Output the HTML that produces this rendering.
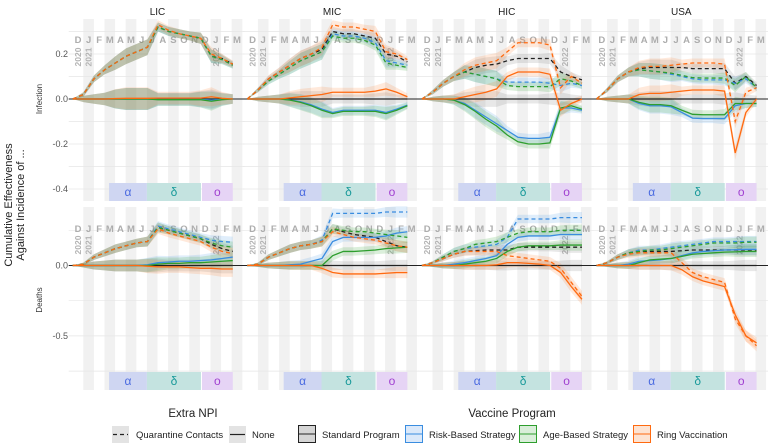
<!DOCTYPE html>
<html><head><meta charset="utf-8"><style>
body{margin:0;background:#fff;width:768px;height:446px;overflow:hidden}
svg{display:block;font-family:"Liberation Sans",sans-serif}
</style></head><body>
<svg id="chart" width="768" height="446" viewBox="0 0 768 446" xmlns="http://www.w3.org/2000/svg">
<g id="bg"></g>
<g id="marks"></g>
<g id="labels"></g>
<text transform="translate(12,205) rotate(-90)" text-anchor="middle" font-size="11" fill="#222">Cumulative Effectiveness</text>
<text transform="translate(24,205) rotate(-90)" text-anchor="middle" font-size="11" fill="#222">Against Incidence of ...</text>
<text transform="translate(42,99) rotate(-90)" text-anchor="middle" font-size="8" fill="#333">Infection</text>
<text transform="translate(42,300) rotate(-90)" text-anchor="middle" font-size="8" fill="#333">Deaths</text>
<g font-size="9.5" fill="#222">
<text x="193" y="417" text-anchor="middle" font-size="11.5">Extra NPI</text>
<text x="512" y="417" text-anchor="middle" font-size="11.5">Vaccine Program</text>
<g><rect x="112" y="426" width="17" height="17" fill="#e3e3e3"/><line x1="113" y1="434.5" x2="128" y2="434.5" stroke="#222" stroke-width="1.2" stroke-dasharray="4,3"/><text x="136" y="438">Quarantine Contacts</text></g>
<g><rect x="229" y="426" width="17" height="17" fill="#e3e3e3"/><line x1="230" y1="434.5" x2="245" y2="434.5" stroke="#222" stroke-width="1.2"/><text x="252" y="438">None</text></g>
<g><rect x="298.5" y="425.5" width="17" height="17" fill="#d5d5d5" stroke="#222"/><line x1="299" y1="434" x2="315" y2="434" stroke="#222"/><text x="322" y="438">Standard Program</text></g>
<g><rect x="405.5" y="425.5" width="17" height="17" fill="#dbe9fa" stroke="#3a8de0"/><line x1="406" y1="434" x2="422" y2="434" stroke="#3a8de0"/><text x="429" y="438">Risk-Based Strategy</text></g>
<g><rect x="519.5" y="425.5" width="17" height="17" fill="#d9eed9" stroke="#2e9e2e"/><line x1="520" y1="434" x2="536" y2="434" stroke="#2e9e2e"/><text x="543" y="438">Age-Based Strategy</text></g>
<g><rect x="633.5" y="425.5" width="17" height="17" fill="#fde3d2" stroke="#ff6a10"/><line x1="634" y1="434" x2="650" y2="434" stroke="#ff6a10"/><text x="657" y="438">Ring Vaccination</text></g>
</g>
</svg>
<script>
const months=['D','J','F','M','A','M','J','J','A','S','O','N','D','J','F','M'];
const panelNames=['LIC','MIC','HIC','USA'];
const ticksInf=[0.2,0.0,-0.2,-0.4];
const ticksInfLabels=['0.2','0.0','-0.2','-0.4'];
const gridInf=[0.3,0.1,-0.1,-0.3];
const ticksDth=[0.0,-0.5];
const ticksDthLabels=['0.0','-0.5'];
const gridDth=[0.25,-0.25,-0.75];
const variants=['α','δ','ο'];
const variantStart=[3.43,7.0,12.2];
const variantEnd=[7.0,12.1,15.1];
const Z=[0,0,0,0,0,0,0,0,0,0,0,0,0,0,0,0];
const ribInf=[0,0.01,0.015,0.02,0.03,0.035,0.035,0.035,0.02,0.02,0.02,0.02,0.025,0.03,0.02,0.015];
const ribDth=[0,0.01,0.02,0.025,0.03,0.03,0.03,0.035,0.035,0.03,0.03,0.03,0.03,0.035,0.04,0.04];
// LIC infection
const LIC_inf_std_q=[0,0.02,0.09,0.13,0.16,0.19,0.21,0.23,0.32,0.30,0.29,0.28,0.27,0.19,0.18,0.155];
const LIC_inf_risk_q=[0,0.02,0.09,0.13,0.16,0.19,0.21,0.23,0.32,0.30,0.29,0.28,0.27,0.19,0.175,0.15];
const LIC_inf_age_q=[0,0.02,0.09,0.13,0.16,0.19,0.21,0.23,0.32,0.30,0.29,0.28,0.27,0.19,0.175,0.15];
const LIC_inf_ring_q=[0,0.02,0.09,0.13,0.16,0.19,0.21,0.23,0.33,0.305,0.29,0.28,0.27,0.2,0.18,0.155];
const LIC_inf_risk_n=[0,0,0,0,0,0,0,0,-0.002,-0.002,-0.002,-0.002,-0.002,-0.005,-0.002,0];
const LIC_inf_age_n=[0,0,0,0,0,0,0,0,-0.003,-0.003,-0.003,-0.003,-0.003,-0.01,-0.003,0];
const LIC_inf_ring_n=[0,0,0,0,0.002,0.003,0.003,0.003,0.004,0.004,0.004,0.004,0.004,0.01,0.003,0];
// MIC infection
const MIC_inf_std_q=[0,0.04,0.09,0.12,0.15,0.18,0.20,0.22,0.30,0.29,0.29,0.28,0.27,0.20,0.19,0.165];
const MIC_inf_risk_q=[0,0.04,0.08,0.11,0.14,0.17,0.19,0.21,0.29,0.28,0.28,0.27,0.25,0.17,0.16,0.15];
const MIC_inf_age_q=[0,0.04,0.08,0.11,0.14,0.17,0.19,0.21,0.28,0.27,0.27,0.26,0.24,0.16,0.15,0.14];
const MIC_inf_ring_q=[0,0.04,0.09,0.12,0.15,0.18,0.20,0.23,0.33,0.32,0.32,0.31,0.30,0.21,0.20,0.175];
const MIC_inf_risk_n=[0,0,0,0,-0.004,-0.012,-0.026,-0.045,-0.06,-0.05,-0.05,-0.05,-0.05,-0.06,-0.045,-0.027];
const MIC_inf_age_n=[0,0,0,0,-0.005,-0.015,-0.03,-0.05,-0.065,-0.055,-0.055,-0.055,-0.055,-0.065,-0.05,-0.03];
const MIC_inf_ring_n=[0,0,0,0,0.005,0.01,0.015,0.02,0.03,0.03,0.03,0.03,0.035,0.045,0.03,0.01];
// HIC infection
const HIC_inf_std_q=[0,0.03,0.07,0.10,0.12,0.14,0.15,0.155,0.17,0.18,0.18,0.18,0.18,0.12,0.10,0.085];
const HIC_inf_risk_q=[0,0.03,0.07,0.10,0.12,0.11,0.10,0.09,0.075,0.075,0.075,0.075,0.07,0.06,0.07,0.06];
const HIC_inf_age_q=[0,0.03,0.07,0.10,0.12,0.11,0.10,0.09,0.06,0.055,0.055,0.055,0.055,0.09,0.08,0.06];
const HIC_inf_ring_q=[0,0.03,0.07,0.10,0.13,0.15,0.16,0.17,0.21,0.25,0.25,0.25,0.24,0.05,0.10,0.07];
const HIC_inf_risk_n=[0,0,0,-0.005,-0.02,-0.05,-0.08,-0.11,-0.14,-0.17,-0.175,-0.175,-0.17,-0.04,-0.04,-0.05];
const HIC_inf_age_n=[0,0,0,-0.005,-0.025,-0.055,-0.09,-0.12,-0.16,-0.19,-0.2,-0.2,-0.195,-0.04,-0.03,-0.045];
const HIC_inf_ring_n=[0,0,0,0,0.01,0.02,0.03,0.045,0.10,0.12,0.12,0.12,0.11,-0.05,-0.02,0.0];
// USA infection
const USA_inf_std_q=[0,0.04,0.09,0.12,0.135,0.14,0.14,0.14,0.14,0.135,0.135,0.135,0.135,0.07,0.1,0.06];
const USA_inf_risk_q=[0,0.04,0.09,0.12,0.13,0.125,0.12,0.11,0.1,0.09,0.085,0.085,0.085,0.07,0.09,0.05];
const USA_inf_age_q=[0,0.04,0.09,0.12,0.13,0.125,0.12,0.115,0.105,0.095,0.093,0.093,0.093,0.06,0.1,0.05];
const USA_inf_ring_q=[0,0.04,0.09,0.12,0.14,0.145,0.145,0.15,0.155,0.16,0.16,0.16,0.155,-0.1,0.03,0.05];
const USA_inf_risk_n=[0,0,0,0,-0.02,-0.03,-0.03,-0.035,-0.06,-0.085,-0.087,-0.087,-0.087,-0.03,-0.02,-0.02];
const USA_inf_age_n=[0,0,0,0,-0.015,-0.025,-0.025,-0.03,-0.05,-0.068,-0.07,-0.07,-0.07,-0.02,-0.02,-0.02];
const USA_inf_ring_n=[0,0,0,0,0.02,0.025,0.025,0.03,0.035,0.04,0.04,0.04,0.035,-0.24,-0.06,0];
// LIC deaths
const LIC_dth_std_q=[0,0.01,0.06,0.09,0.12,0.14,0.16,0.17,0.27,0.25,0.23,0.21,0.19,0.15,0.12,0.1];
const LIC_dth_risk_q=[0,0.01,0.06,0.09,0.12,0.14,0.16,0.17,0.28,0.26,0.24,0.22,0.2,0.18,0.17,0.165];
const LIC_dth_age_q=[0,0.01,0.06,0.09,0.12,0.14,0.16,0.17,0.27,0.25,0.23,0.21,0.19,0.16,0.14,0.13];
const LIC_dth_ring_q=[0,0.01,0.06,0.09,0.12,0.14,0.16,0.17,0.26,0.23,0.21,0.19,0.17,0.13,0.10,0.085];
const LIC_dth_risk_n=[0,0,0,0,0,0,0,0.005,0.02,0.025,0.03,0.03,0.035,0.04,0.05,0.06];
const LIC_dth_age_n=[0,0,0,0,0,0,0,0,0.01,0.015,0.015,0.02,0.02,0.025,0.03,0.035];
const LIC_dth_ring_n=[0,0,0,0,0,0,0,-0.005,-0.01,-0.01,-0.01,-0.015,-0.02,-0.02,-0.025,-0.025];
// MIC deaths
const MIC_dth_std_q=[0,0.01,0.06,0.09,0.12,0.14,0.15,0.17,0.26,0.24,0.22,0.21,0.2,0.17,0.14,0.13];
const MIC_dth_risk_q=[0,0.01,0.06,0.09,0.12,0.14,0.15,0.18,0.37,0.37,0.37,0.37,0.37,0.38,0.38,0.38];
const MIC_dth_age_q=[0,0.01,0.06,0.09,0.12,0.14,0.15,0.17,0.26,0.25,0.24,0.24,0.23,0.22,0.21,0.2];
const MIC_dth_ring_q=[0,0.01,0.06,0.09,0.12,0.14,0.15,0.17,0.24,0.22,0.2,0.19,0.18,0.16,0.14,0.13];
const MIC_dth_risk_n=[0,0,0,0,0.005,0.01,0.03,0.05,0.17,0.2,0.2,0.2,0.2,0.21,0.23,0.24];
const MIC_dth_age_n=[0,0,0,0,0,0,0,0,0.07,0.1,0.1,0.105,0.11,0.12,0.125,0.13];
const MIC_dth_ring_n=[0,0,0,0,0,0,0,-0.02,-0.05,-0.06,-0.06,-0.06,-0.06,-0.055,-0.05,-0.05];
// HIC deaths
const HIC_dth_std_q=[0,0.02,0.05,0.08,0.1,0.105,0.11,0.11,0.11,0.13,0.13,0.13,0.13,0.13,0.13,0.13];
const HIC_dth_risk_q=[0,0.02,0.06,0.1,0.12,0.13,0.14,0.15,0.2,0.33,0.33,0.33,0.33,0.34,0.34,0.34];
const HIC_dth_age_q=[0,0.02,0.06,0.1,0.12,0.15,0.16,0.17,0.2,0.23,0.24,0.24,0.24,0.25,0.25,0.25];
const HIC_dth_ring_q=[0,0.02,0.05,0.08,0.1,0.1,0.1,0.1,0.07,0.06,0.05,0.04,0.03,-0.02,-0.12,-0.22];
const HIC_dth_risk_n=[0,0,0,0.01,0.02,0.035,0.05,0.07,0.15,0.2,0.21,0.21,0.21,0.22,0.22,0.22];
const HIC_dth_age_n=[0,0,0,0,0.01,0.02,0.03,0.05,0.1,0.13,0.14,0.14,0.14,0.145,0.145,0.145];
const HIC_dth_ring_n=[0,0,0,0,0,0,0,0.005,0.02,0.02,0.015,0.01,0,-0.05,-0.15,-0.24];
// USA deaths
const USA_dth_std_q=[0,0.02,0.06,0.09,0.1,0.1,0.1,0.1,0.105,0.11,0.11,0.11,0.11,0.11,0.11,0.11];
const USA_dth_risk_q=[0,0.02,0.06,0.09,0.11,0.11,0.12,0.13,0.14,0.15,0.16,0.17,0.17,0.17,0.17,0.17];
const USA_dth_age_q=[0,0.02,0.06,0.09,0.1,0.11,0.11,0.12,0.13,0.14,0.15,0.16,0.16,0.16,0.165,0.165];
const USA_dth_ring_q=[0,0.02,0.06,0.08,0.09,0.09,0.09,0.09,0.02,-0.05,-0.08,-0.1,-0.12,-0.38,-0.5,-0.57];
const USA_dth_risk_n=[0,0,0,0.01,0.03,0.035,0.04,0.05,0.07,0.09,0.1,0.105,0.11,0.112,0.115,0.115];
const USA_dth_age_n=[0,0,0,0,0.02,0.04,0.045,0.05,0.065,0.08,0.085,0.09,0.095,0.097,0.1,0.1];
const USA_dth_ring_n=[0,0,0,0,0,0,0,0,-0.03,-0.08,-0.11,-0.13,-0.15,-0.35,-0.5,-0.55];

const seriesMap={
 LIC:{inf:{std:[LIC_inf_std_q,Z],risk:[LIC_inf_risk_q,LIC_inf_risk_n],age:[LIC_inf_age_q,LIC_inf_age_n],ring:[LIC_inf_ring_q,LIC_inf_ring_n]},
      dth:{std:[LIC_dth_std_q,Z],risk:[LIC_dth_risk_q,LIC_dth_risk_n],age:[LIC_dth_age_q,LIC_dth_age_n],ring:[LIC_dth_ring_q,LIC_dth_ring_n]}},
 MIC:{inf:{std:[MIC_inf_std_q,Z],risk:[MIC_inf_risk_q,MIC_inf_risk_n],age:[MIC_inf_age_q,MIC_inf_age_n],ring:[MIC_inf_ring_q,MIC_inf_ring_n]},
      dth:{std:[MIC_dth_std_q,Z],risk:[MIC_dth_risk_q,MIC_dth_risk_n],age:[MIC_dth_age_q,MIC_dth_age_n],ring:[MIC_dth_ring_q,MIC_dth_ring_n]}},
 HIC:{inf:{std:[HIC_inf_std_q,Z],risk:[HIC_inf_risk_q,HIC_inf_risk_n],age:[HIC_inf_age_q,HIC_inf_age_n],ring:[HIC_inf_ring_q,HIC_inf_ring_n]},
      dth:{std:[HIC_dth_std_q,Z],risk:[HIC_dth_risk_q,HIC_dth_risk_n],age:[HIC_dth_age_q,HIC_dth_age_n],ring:[HIC_dth_ring_q,HIC_dth_ring_n]}},
 USA:{inf:{std:[USA_inf_std_q,Z],risk:[USA_inf_risk_q,USA_inf_risk_n],age:[USA_inf_age_q,USA_inf_age_n],ring:[USA_inf_ring_q,USA_inf_ring_n]},
      dth:{std:[USA_dth_std_q,Z],risk:[USA_dth_risk_q,USA_dth_risk_n],age:[USA_dth_age_q,USA_dth_age_n],ring:[USA_dth_ring_q,USA_dth_ring_n]}}
};
const progs=['std','risk','age','ring'];
const lineCol={std:'#222',risk:'#3a8de0',age:'#2e9e2e',ring:'#ff6a10'};
const ribCol={std:'#777',risk:'#4a9ae8',age:'#2ca02c',ring:'#ff7f2a'};
const vFill=['#cfd6f2','#c4e3e0','#e6d4f5'];
const vText=['#4a6ae0','#1a9a9a','#a040d0'];

const NS='http://www.w3.org/2000/svg';
const MW=10.6;
function px(i,t){return 72.7+174.6*i+t*MW;}
const rows={inf:{zero:99,k:225,top:19,bot:201,mlab:43,yr:57,ticks:ticksInf,tl:ticksInfLabels,grid:gridInf,rib:ribInf},
            dth:{zero:265.5,k:140.8,top:207,bot:390,mlab:232,yr:245,ticks:ticksDth,tl:ticksDthLabels,grid:gridDth,rib:ribDth}};
function py(r,v){return rows[r].zero-v*rows[r].k;}
function mk(tag,attrs,parent){const e=document.createElementNS(NS,tag);for(const k in attrs)e.setAttribute(k,attrs[k]);parent.appendChild(e);return e;}
const bg=document.getElementById('bg'),marks=document.getElementById('marks'),labels=document.getElementById('labels');

panelNames.forEach((p,i)=>{
  const t=mk('text',{x:px(i,8),y:15,'text-anchor':'middle','font-size':'10',fill:'#222'},labels);
  t.textContent=p;
  
  
  ['inf','dth'].forEach(r=>{
    const R=rows[r];
    for(let m=1;m<16;m+=2){
      const s=mk('rect',{x:px(i,m),y:R.top,width:MW,height:R.bot-R.top,fill:'#f1f1f1'},bg);
      
      
    }
    R.grid.concat(R.ticks).forEach(g=>{
      const l=mk('line',{x1:px(i,0)-4,x2:px(i,16)+2,y1:py(r,g),y2:py(r,g),stroke:'#e6e6e6','stroke-width':0.7},bg);
      
      
    });
    variants.forEach((v,j)=>{
      const b=mk('rect',{x:px(i,variantStart[j]),y:R.bot-18,width:(variantEnd[j]-variantStart[j])*MW,height:18,fill:vFill[j]},bg);
      
      
      const vt=mk('text',{x:px(i,(variantStart[j]+variantEnd[j])/2),y:R.bot-5,'text-anchor':'middle','font-size':'12',fill:vText[j]},bg);
      vt.textContent=v;
      
      
    });
    months.forEach((m,k)=>{
      const mt=mk('text',{x:px(i,k+0.5),y:R.mlab,'text-anchor':'middle','font-size':'9.5','font-weight':'bold',fill:'#adadad'},bg);
      mt.textContent=m;
      
      
    });
    [['2020',0.5],['2021',1.5],['2022',13.5]].forEach(([y,k])=>{
      const yt=mk('text',{transform:`translate(${px(i,k)+3},${R.yr}) rotate(-90)`,'text-anchor':'middle','font-size':'8.5','font-weight':'bold',fill:'#b4b4b4'},bg);
      yt.textContent=y;
      
      
    });
    if(i===0){
      R.ticks.forEach((tv,k)=>{
        const tt=mk('text',{x:68,y:py(r,tv)+3,'text-anchor':'end','font-size':'9',fill:'#555'},labels);
        tt.textContent=R.tl[k];
        
        
      });
    }
    const z=mk('line',{x1:px(i,0)-4,x2:px(i,16)+2,y1:py(r,0),y2:py(r,0),stroke:'#222','stroke-width':1},marks);
    
    
    progs.forEach(pg=>{
      seriesMap[p][r][pg].forEach((arr,ni)=>{
        const w=R.rib.map(v=>v*(ni===1&&i===0?1.4:1));
        let up=arr.map((v,k)=>px(i,k*(15.1/15))+','+py(r,v+w[k]));
        let dn=arr.map((v,k)=>px(i,k*(15.1/15))+','+py(r,v-w[k])).reverse();
        const rb=mk('polygon',{points:up.concat(dn).join(' '),fill:ribCol[pg],'fill-opacity':0.17},marks);
        
        
      });
    });
    progs.forEach(pg=>{
      seriesMap[p][r][pg].forEach((arr,ni)=>{
        const pts=arr.map((v,k)=>px(i,k*(15.1/15))+','+py(r,v)).join(' ');
        const a={points:pts,fill:'none',stroke:lineCol[pg],'stroke-width':1.3};
        if(ni===0)a['stroke-dasharray']='4,3';
        const ln=mk('polyline',a,marks);
        
        
      });
    });
  });
});
</script>
</body></html>
